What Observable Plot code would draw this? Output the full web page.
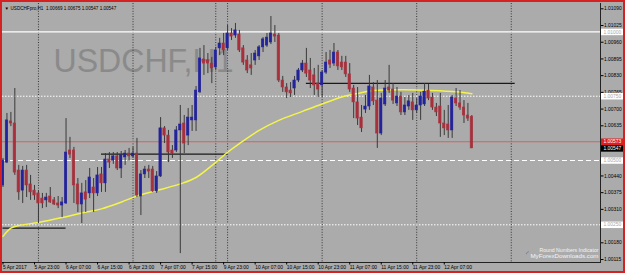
<!DOCTYPE html>
<html><head><meta charset="utf-8">
<script src="https://cdn.jsdelivr.net/npm/d3@7"></script>
<script src="https://cdn.jsdelivr.net/npm/@observablehq/plot@0.6"></script>
<style>html,body{margin:0;padding:0;background:#ababab;}</style>
</head><body><div id="chart"></div>
<script>
// ---- data (H1 candles, USDCHF) ----
const open = [1.00403,1.00492,1.00652,1.00644,1.00461,1.00383,1.00461,1.00407,1.00383,1.00372,
1.00352,1.00345,1.00360,1.00345,1.00333,1.00325,1.00333,1.00539,1.00539,1.00407,
1.00329,1.00376,1.00372,1.00395,1.00372,1.00446,1.00411,1.00504,1.00500,1.00516,
1.00469,1.00512,1.00527,1.00516,1.00527,1.00360,1.00446,1.00465,1.00465,1.00380,
1.00438,1.00625,1.00597,1.00539,1.00539,1.00617,1.00644,1.00597,1.00656,1.00656,
1.00765,1.00893,1.00889,1.00877,1.00862,1.00936,1.00955,1.00936,1.00994,1.00986,
1.00990,1.00936,1.00889,1.00870,1.00889,1.00905,1.00940,1.00947,1.00959,1.00990,
1.00986,1.00811,1.00784,1.00772,1.00780,1.00811,1.00850,1.00877,1.00850,1.00831,
1.00799,1.00792,1.00842,1.00889,1.00877,1.00920,1.00881,1.00881,1.00835,1.00780,
1.00726,1.00667,1.00698,1.00710,1.00784,1.00733,1.00605,1.00718,1.00784,1.00776,
1.00722,1.00749,1.00687,1.00710,1.00726,1.00695,1.00714,1.00718,1.00772,1.00745,
1.00706,1.00710,1.00644,1.00640,1.00617,1.00741,1.00722,1.00706,1.00675,1.00669];
const high = [1.00508,1.00683,1.00687,1.00780,1.00481,1.00477,1.00481,1.00442,1.00403,1.00383,
1.00372,1.00372,1.00395,1.00356,1.00360,1.00356,1.00663,1.00590,1.00551,1.00430,
1.00411,1.00422,1.00469,1.00430,1.00473,1.00473,1.00527,1.00531,1.00531,1.00531,
1.00535,1.00539,1.00547,1.00551,1.00586,1.00461,1.00477,1.00481,1.00477,1.00457,
1.00667,1.00632,1.00617,1.00558,1.00632,1.00714,1.00675,1.00702,1.00714,1.00788,
1.00936,1.00947,1.00916,1.00901,1.00940,1.00975,1.00994,1.01025,1.01013,1.01033,
1.01006,1.00947,1.00908,1.00916,1.00928,1.00947,1.00978,1.00994,1.01060,1.01025,
1.00994,1.00827,1.00799,1.00803,1.00827,1.00858,1.00889,1.00936,1.00897,1.00858,
1.00870,1.00850,1.00920,1.00928,1.00955,1.00928,1.00905,1.00905,1.00877,1.00792,
1.00784,1.00714,1.00753,1.00831,1.00803,1.00811,1.00761,1.00811,1.00870,1.00799,
1.00784,1.00765,1.00745,1.00753,1.00761,1.00741,1.00765,1.00799,1.00796,1.00761,
1.00722,1.00761,1.00695,1.00714,1.00753,1.00780,1.00772,1.00733,1.00722,1.00675];
const low = [1.00395,1.00488,1.00632,1.00442,1.00345,1.00333,1.00356,1.00345,1.00345,1.00255,
1.00313,1.00317,1.00333,1.00325,1.00313,1.00278,1.00329,1.00508,1.00333,1.00298,
1.00255,1.00298,1.00352,1.00298,1.00360,1.00376,1.00376,1.00469,1.00485,1.00461,
1.00430,1.00481,1.00500,1.00508,1.00356,1.00286,1.00430,1.00430,1.00376,1.00372,
1.00434,1.00566,1.00492,1.00508,1.00531,1.00138,1.00527,1.00558,1.00613,1.00613,
1.00761,1.00831,1.00838,1.00799,1.00850,1.00908,1.00908,1.00928,1.00967,1.00975,
1.00920,1.00870,1.00838,1.00831,1.00870,1.00889,1.00920,1.00940,1.00951,1.00959,
1.00803,1.00765,1.00741,1.00745,1.00753,1.00803,1.00842,1.00823,1.00780,1.00753,
1.00745,1.00745,1.00835,1.00858,1.00866,1.00850,1.00850,1.00823,1.00765,1.00663,
1.00636,1.00609,1.00683,1.00695,1.00714,1.00547,1.00597,1.00710,1.00761,1.00718,
1.00710,1.00675,1.00675,1.00695,1.00656,1.00683,1.00656,1.00710,1.00733,1.00695,
1.00671,1.00590,1.00597,1.00586,1.00586,1.00710,1.00695,1.00644,1.00652,1.00547];
const close = [1.00500,1.00656,1.00644,1.00453,1.00376,1.00461,1.00403,1.00376,1.00364,1.00333,
1.00333,1.00356,1.00337,1.00329,1.00325,1.00337,1.00531,1.00523,1.00403,1.00329,
1.00372,1.00348,1.00434,1.00372,1.00442,1.00411,1.00504,1.00492,1.00516,1.00469,
1.00520,1.00527,1.00516,1.00527,1.00364,1.00446,1.00465,1.00457,1.00380,1.00438,
1.00625,1.00597,1.00531,1.00527,1.00617,1.00640,1.00566,1.00667,1.00667,1.00772,
1.00897,1.00877,1.00877,1.00858,1.00928,1.00955,1.00928,1.00994,1.00982,1.01006,
1.00928,1.00881,1.00850,1.00858,1.00916,1.00940,1.00971,1.00978,1.00994,1.00982,
1.00811,1.00784,1.00765,1.00761,1.00811,1.00850,1.00877,1.00838,1.00811,1.00792,
1.00776,1.00842,1.00881,1.00873,1.00920,1.00866,1.00862,1.00835,1.00776,1.00726,
1.00663,1.00625,1.00710,1.00788,1.00730,1.00605,1.00741,1.00780,1.00772,1.00733,
1.00749,1.00687,1.00714,1.00730,1.00695,1.00714,1.00749,1.00768,1.00741,1.00706,
1.00687,1.00644,1.00625,1.00617,1.00745,1.00722,1.00706,1.00675,1.00663,1.00547];

// moving average (yellow), read at bar indices
const maIndex = [0,2,4,9,15,20,25,30,34,39,45,49,54,57,60,65,70,76,81,86,90,94,102,109,115,119];
const maValue = [1.00205,1.00237,1.00247,1.00259,1.00278,1.00296,1.00312,1.00338,1.00362,1.00383,1.00409,1.00434,1.00493,1.00532,1.00566,1.00617,1.00656,1.00691,1.00720,1.00747,1.00761,1.00772,1.00775,1.00772,1.00767,1.00760];

// axes
const priceTicks = [1.01090,1.01025,1.00960,1.00895,1.00830,1.00765,1.00700,1.00635,1.00570,1.00505,1.00440,1.00375,1.00310,1.00245,1.00180,1.00115];
const dateTickIndex = [0,8,16,24,32,40,48,56,64,72,80,88,96,104,112];
const dateTickLabels = ["5 Apr 2017","5 Apr 23:00","6 Apr 07:00","6 Apr 15:00","6 Apr 23:00","7 Apr 07:00","7 Apr 15:00","9 Apr 23:00","10 Apr 07:00","10 Apr 15:00","10 Apr 23:00","11 Apr 07:00","11 Apr 15:00","11 Apr 23:00","12 Apr 07:00"];
const separatorIndex = [9,33,54,57,81,105,129];

// round-number levels and other horizontal lines
const roundLevels = [1.01000,1.00750,1.00500,1.00250];
const roundDash = ["none","1.5,1.5","5,3","1.5,1.5"];
const roundWidth = [1.2,1,1.2,1];
const askPrice = 1.00573;
const bidPrice = 1.00547;
const segPrice = [1.00800,1.00525,1.00237];
const segFrom = [77,25,0];
const segTo = [130,57,16];
const titleText = "USDCHFpro,H1  1.00669 1.00675 1.00547 1.00547";

// ---- build ----
const UP = "#23239c", DOWN = "#a8303c", WICK = "#3a3a3a";
const candles = open.map((o,i)=>({i, o, h:high[i], l:low[i], c:close[i]}));
const ups = candles.filter(d=>d.c>=d.o), downs = candles.filter(d=>d.c<d.o);
const ma = maIndex.map((i,k)=>({i, v:maValue[k]}));
const levels = roundLevels.map((p,k)=>({p, dash:roundDash[k], w:roundWidth[k]}));
const segs = segPrice.map((p,k)=>({p, a:segFrom[k], b:segTo[k]}));
const tickMap = new Map(dateTickIndex.map((d,k)=>[d, dateTickLabels[k]]));
const boxX1 = 151.9, boxX2 = 157.8;
const boxes = [
  ...roundLevels.map(p=>({p, bg:"#ffffff", fg:"#a8a8a8"})),
  {p:askPrice, bg:"#e01e1e", fg:"#ffffff"},
  {p:bidPrice, bg:"#000000", fg:"#ffffff"}
];

const chart = Plot.plot({
  width:625, height:273,
  marginLeft:2, marginRight:25, marginTop:3, marginBottom:11,
  x:{domain:[-0.127,151.65]},
  y:{domain:[1.001034,1.011106]},
  style:{background:"#ababab", fontFamily:"'Liberation Sans', Arial, sans-serif", fontSize:"5px", color:"#000"},
  marks:[
    Plot.text(["USDCHF,H1"], {frameAnchor:"top-left", dx:51, dy:44, lineAnchor:"top", textAnchor:"start", fontSize:34, fill:"#8a8a8a"}),
    Plot.ruleX(separatorIndex, {stroke:"#2a2a2a", strokeDasharray:"1,1.6", strokeWidth:0.9}),
    ...levels.map(l=>Plot.ruleY([l.p], {stroke:"#ffffff", strokeWidth:l.w, strokeDasharray:l.dash})),
    Plot.ruleY([askPrice], {stroke:"#d86060", strokeWidth:1}),
    Plot.ruleY(segs, {y:"p", x1:"a", x2:"b", stroke:"#1a1a1a", strokeWidth:1.4}),
    Plot.line(ma, {x:"i", y:"v", stroke:"#f4f44a", strokeWidth:1.5, curve:"catmull-rom"}),
    Plot.ruleX(candles, {x:"i", y1:"l", y2:"h", stroke:WICK, strokeWidth:1}),
    Plot.rect(ups, {x1:d=>d.i-0.3, x2:d=>d.i+0.3, y1:"o", y2:"c", fill:UP, stroke:UP, strokeWidth:0.6}),
    Plot.rect(downs, {x1:d=>d.i-0.3, x2:d=>d.i+0.3, y1:"o", y2:"c", fill:DOWN, stroke:DOWN, strokeWidth:0.6}),
    Plot.frame({anchor:"right", stroke:"#222"}),
    Plot.frame({anchor:"bottom", stroke:"#222"}),
    Plot.axisY(priceTicks, {anchor:"right", tickSize:2.5, tickPadding:1, tickFormat:d=>d.toFixed(5), fontSize:4.9, fill:"#000", stroke:"#000", label:null}),
    Plot.axisX(dateTickIndex, {anchor:"bottom", tickSize:2.5, tickPadding:0.5, tickFormat:d=>tickMap.get(d), textAnchor:"start", fontSize:4.9, fill:"#000", stroke:"#000", label:null}),
    Plot.ruleY(boxes, {y:"p", x1:boxX1, x2:boxX2, stroke:"bg", strokeWidth:6.5}),
    Plot.text(boxes, {y:"p", x:boxX1, text:d=>d.p.toFixed(5), fill:"fg", textAnchor:"start", dx:2, fontSize:4.9}),
    Plot.text(["▼"], {frameAnchor:"top-left", dx:2, dy:3.2, textAnchor:"start", fontSize:4.5, fill:"#000"}),
    Plot.text([titleText], {frameAnchor:"top-left", dx:8, dy:3.2, textAnchor:"start", fontSize:4.6, fill:"#000"}),
    Plot.text(["◜"], {frameAnchor:"bottom-right", dx:-73, dy:-7, textAnchor:"middle", fontSize:7, fill:"#2a3a8a"}),
    Plot.text(["Round Numbers Indicator"], {frameAnchor:"bottom-right", dx:-2, dy:-11, textAnchor:"end", fontSize:5.2, fill:"#f4f4f4"}),
    Plot.text(["MyForexDownloads.com"], {frameAnchor:"bottom-right", dx:-2, dy:-4.5, textAnchor:"end", fontSize:6.2, fill:"#f4f4f4"})
  ]
});
document.getElementById("chart").appendChild(chart);
const svg = d3.select(chart);
svg.selectAll("text").filter(function(){return this.textContent==="USDCHF,H1";})
  .attr("textLength",180).attr("lengthAdjust","spacingAndGlyphs");
svg.append("rect").attr("x",1).attr("y",1).attr("width",623).attr("height",271)
  .attr("fill","none").attr("stroke","#d42222").attr("stroke-width",2);
</script>
</body></html>
